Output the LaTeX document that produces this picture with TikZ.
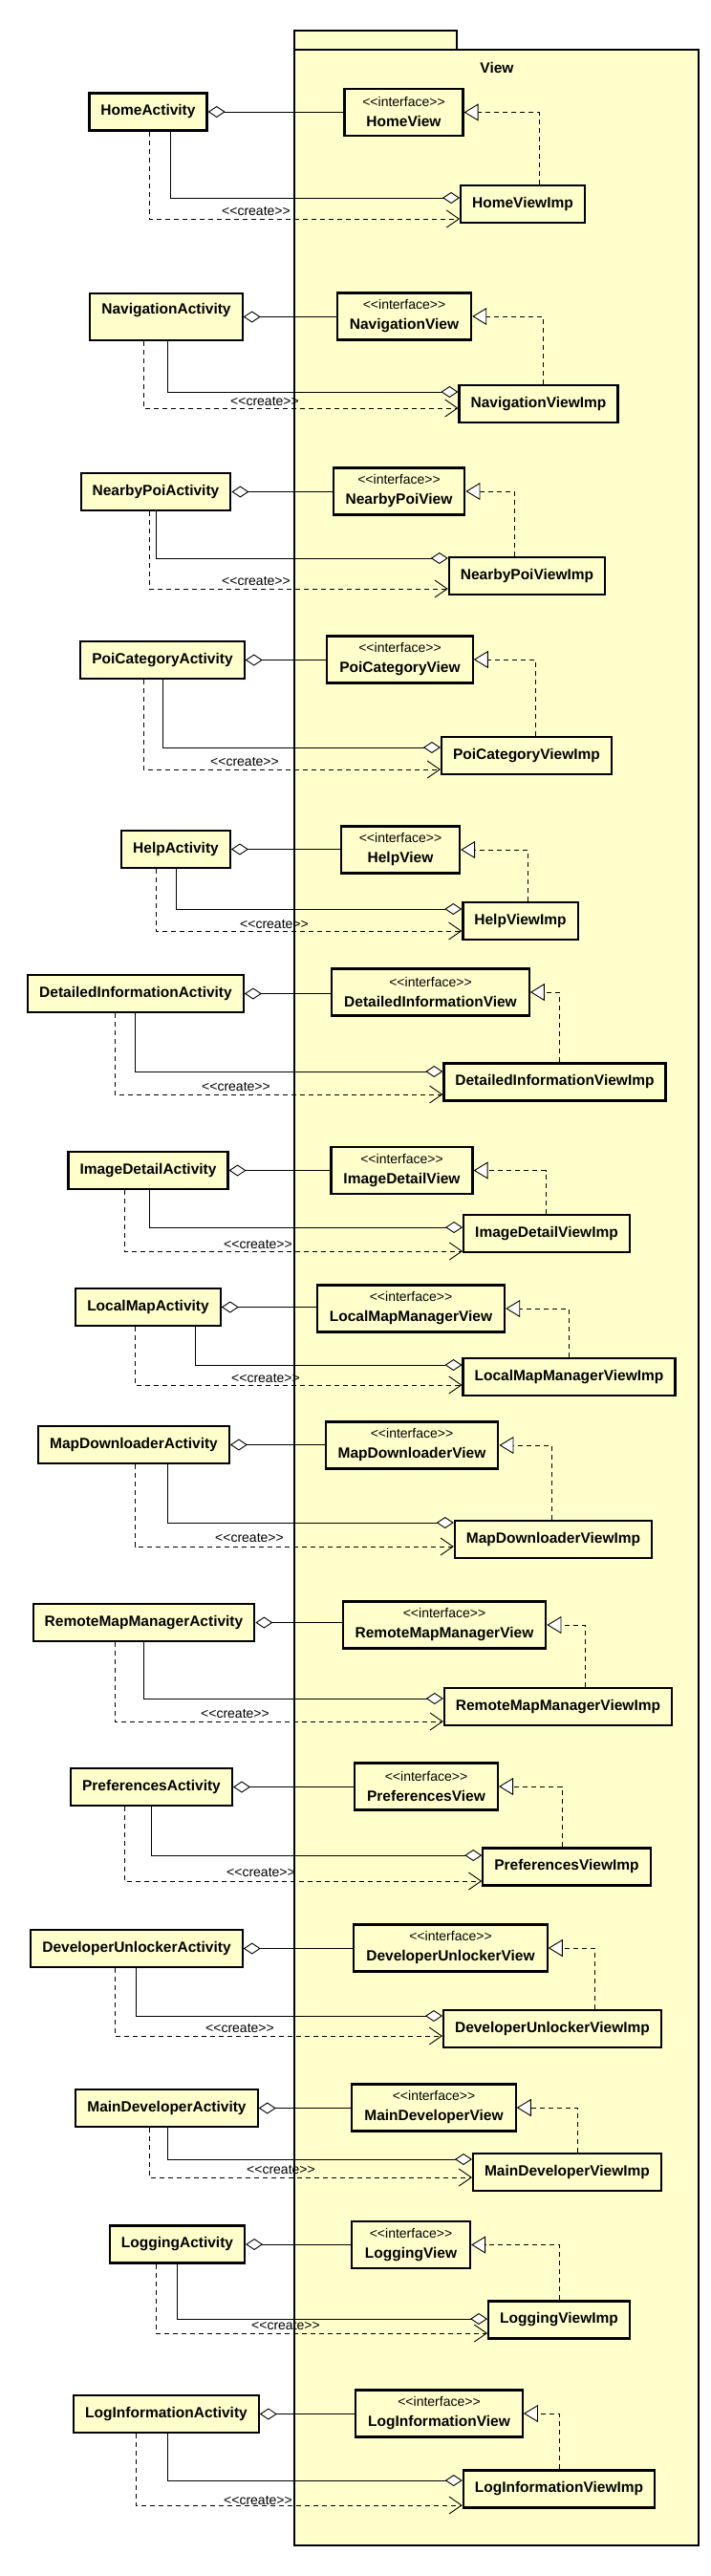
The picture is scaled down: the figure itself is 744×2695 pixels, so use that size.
\documentclass[tikz,border=0pt]{standalone}
\usepackage{fontspec}
\setmainfont{Liberation Sans}
\usetikzlibrary{arrows.meta}
\definecolor{umlyellow}{RGB}{255,255,204}
\newcommand{\stereo}[1]{{\mdseries\fontsize{14}{21}\selectfont<\kern0pt<#1>\kern0pt>}}

\begin{document}
\begin{tikzpicture}[x=1pt, y=-1pt,
        every node/.style={font=\bfseries\fontsize{15.5}{21}\selectfont},
        cls/.style={draw, line width=2.2pt, fill=umlyellow, inner xsep=12pt, inner ysep=0pt,
            text height=11pt, text depth=3.3pt, minimum height=39pt},
        tallcls/.style={cls, text depth=17pt, minimum height=49pt},
        iface/.style={draw, line width=2.2pt, fill=umlyellow, align=center, inner xsep=13pt,
            minimum width=124pt, minimum height=49pt},
        aggr/.style={draw, line width=0.9pt, {Diamond[fill=white, length=18pt, width=12pt]}-},
        own/.style={draw, line width=0.9pt, -{Diamond[fill=white, length=18pt, width=12pt]}},
        realize/.style={draw, line width=0.9pt, dash pattern=on 5pt off 4pt,
            -{Triangle[fill=white, length=15pt, width=18pt]}},
        create/.style={draw, line width=0.9pt, dash pattern=on 5pt off 4pt,
            -{Straight Barb[length=13pt, width=18pt]}},
        crlabel/.style={inner sep=0pt}]
    \useasboundingbox (0,0) rectangle (744,2695);

    % package View
    \draw[line width=2.2pt, fill=umlyellow] (308,32) rectangle (478,52);
    \draw[line width=2.2pt, fill=umlyellow] (308,52) rectangle (731,2663);
    \node (viewLbl) at (520,71) {View};

    % Home
    \node[cls] (homeAct) at (155,117) {HomeActivity};
    \node[iface] (homeIf) at (422.5,117.5) {\stereo{interface}\\HomeView};
    \node[cls] (homeImp) at (547,213.5) {HomeViewImp};
    \draw[aggr] (homeAct.east) -- (homeAct.east -| homeIf.west);
    \draw[own] (homeAct.south -| 178,0) |- (homeImp.west |- 0,207);
    \draw[create] (homeAct.south -| 156,0) |- (homeImp.west |- 0,229);
    \draw[realize] (homeImp.north -| 564,0) |- (homeIf.east);
    \node[crlabel] (homeCr) at (268,221) {\stereo{create}};

    % Navigation
    \node[tallcls] (navAct) at (174,331.5) {NavigationActivity};
    \node[iface] (navIf) at (423,331) {\stereo{interface}\\NavigationView};
    \node[cls] (navImp) at (563.5,422.5) {NavigationViewImp};
    \draw[aggr] (navAct.east) -- (navAct.east -| navIf.west);
    \draw[own] (navAct.south -| 175,0) |- (navImp.west |- 0,410);
    \draw[create] (navAct.south -| 150,0) |- (navImp.west |- 0,427);
    \draw[realize] (navImp.north -| 568,0) |- (navIf.east);
    \node[crlabel] (navCr) at (277,420) {\stereo{create}};

    % NearbyPoi
    \node[cls] (poiAct) at (163,514.5) {NearbyPoiActivity};
    \node[iface] (poiIf) at (417.5,514) {\stereo{interface}\\NearbyPoiView};
    \node[cls] (poiImp) at (551.5,602.5) {NearbyPoiViewImp};
    \draw[aggr] (poiAct.east) -- (poiAct.east -| poiIf.west);
    \draw[own] (poiAct.south -| 163,0) |- (poiImp.west |- 0,584);
    \draw[create] (poiAct.south -| 156,0) |- (poiImp.west |- 0,616);
    \draw[realize] (poiImp.north -| 538,0) |- (poiIf.east);
    \node[crlabel] (poiCr) at (268,608) {\stereo{create}};

    % PoiCategory
    \node[cls] (catAct) at (170,690.5) {PoiCategoryActivity};
    \node[iface] (catIf) at (418.5,690) {\stereo{interface}\\PoiCategoryView};
    \node[cls] (catImp) at (551,790.5) {PoiCategoryViewImp};
    \draw[aggr] (catAct.east) -- (catAct.east -| catIf.west);
    \draw[own] (catAct.south -| 170,0) |- (catImp.west |- 0,782);
    \draw[create] (catAct.south -| 150,0) |- (catImp.west |- 0,805);
    \draw[realize] (catImp.north -| 560,0) |- (catIf.east);
    \node[crlabel] (catCr) at (256,797) {\stereo{create}};

    % Help
    \node[cls] (helpAct) at (184,888.5) {HelpActivity};
    \node[iface] (helpIf) at (419,889) {\stereo{interface}\\HelpView};
    \node[cls] (helpImp) at (544.5,963.5) {HelpViewImp};
    \draw[aggr] (helpAct.east) -- (helpAct.east -| helpIf.west);
    \draw[own] (helpAct.south -| 184,0) |- (helpImp.west |- 0,951);
    \draw[create] (helpAct.south -| 163,0) |- (helpImp.west |- 0,974);
    \draw[realize] (helpImp.north -| 552,0) |- (helpIf.east);
    \node[crlabel] (helpCr) at (287,967) {\stereo{create}};

    % DetailedInformation
    \node[cls] (detAct) at (142,1039.5) {DetailedInformationActivity};
    \node[iface] (detIf) at (450.5,1038) {\stereo{interface}\\DetailedInformationView};
    \node[cls] (detImp) at (580.5,1132) {DetailedInformationViewImp};
    \draw[aggr] (detAct.east) -- (detAct.east -| detIf.west);
    \draw[own] (detAct.south -| 141,0) |- (detImp.west |- 0,1121);
    \draw[create] (detAct.south -| 120,0) |- (detImp.west |- 0,1145);
    \draw[realize] (detImp.north -| 585,0) |- (detIf.east);
    \node[crlabel] (detCr) at (247,1137) {\stereo{create}};

    % ImageDetail
    \node[cls] (imgAct) at (155,1224.5) {ImageDetailActivity};
    \node[iface] (imgIf) at (420.5,1224.5) {\stereo{interface}\\ImageDetailView};
    \node[cls] (imgImp) at (572,1290.5) {ImageDetailViewImp};
    \draw[aggr] (imgAct.east) -- (imgAct.east -| imgIf.west);
    \draw[own] (imgAct.south -| 156,0) |- (imgImp.west |- 0,1284);
    \draw[create] (imgAct.south -| 130,0) |- (imgImp.west |- 0,1309);
    \draw[realize] (imgImp.north -| 571,0) |- (imgIf.east);
    \node[crlabel] (imgCr) at (270,1302) {\stereo{create}};

    % LocalMap
    \node[cls] (locAct) at (155,1367.5) {LocalMapActivity};
    \node[iface] (locIf) at (430,1369) {\stereo{interface}\\LocalMapManagerView};
    \node[cls] (locImp) at (595.5,1440.5) {LocalMapManagerViewImp};
    \draw[aggr] (locAct.east) -- (locAct.east -| locIf.west);
    \draw[own] (locAct.south -| 204,0) |- (locImp.west |- 0,1428);
    \draw[create] (locAct.south -| 141,0) |- (locImp.west |- 0,1449);
    \draw[realize] (locImp.north -| 595,0) |- (locIf.east);
    \node[crlabel] (locCr) at (278,1442) {\stereo{create}};

    % MapDownloader
    \node[cls] (dlAct) at (140,1511.5) {MapDownloaderActivity};
    \node[iface] (dlIf) at (431,1512) {\stereo{interface}\\MapDownloaderView};
    \node[cls] (dlImp) at (579,1610.5) {MapDownloaderViewImp};
    \draw[aggr] (dlAct.east) -- (dlAct.east -| dlIf.west);
    \draw[own] (dlAct.south -| 175,0) |- (dlImp.west |- 0,1593);
    \draw[create] (dlAct.south -| 141,0) |- (dlImp.west |- 0,1618);
    \draw[realize] (dlImp.north -| 577,0) |- (dlIf.east);
    \node[crlabel] (dlCr) at (261,1609) {\stereo{create}};

    % RemoteMapManager
    \node[cls] (remAct) at (150.5,1697.5) {RemoteMapManagerActivity};
    \node[iface] (remIf) at (465,1700) {\stereo{interface}\\RemoteMapManagerView};
    \node[cls] (remImp) at (584,1785.5) {RemoteMapManagerViewImp};
    \draw[aggr] (remAct.east) -- (remAct.east -| remIf.west);
    \draw[own] (remAct.south -| 150,0) |- (remImp.west |- 0,1777);
    \draw[create] (remAct.south -| 120,0) |- (remImp.west |- 0,1801);
    \draw[realize] (remImp.north -| 612,0) |- (remIf.east);
    \node[crlabel] (remCr) at (246,1793) {\stereo{create}};

    % Preferences
    \node[cls] (prefAct) at (158.5,1869.5) {PreferencesActivity};
    \node[iface] (prefIf) at (446,1869) {\stereo{interface}\\PreferencesView};
    \node[cls] (prefImp) at (593,1953) {PreferencesViewImp};
    \draw[aggr] (prefAct.east) -- (prefAct.east -| prefIf.west);
    \draw[own] (prefAct.south -| 158,0) |- (prefImp.west |- 0,1941);
    \draw[create] (prefAct.south -| 130,0) |- (prefImp.west |- 0,1968);
    \draw[realize] (prefImp.north -| 588,0) |- (prefIf.east);
    \node[crlabel] (prefCr) at (273,1959) {\stereo{create}};

    % DeveloperUnlocker
    \node[cls] (devAct) at (143,2038.5) {DeveloperUnlockerActivity};
    \node[iface] (devIf) at (471.5,2038) {\stereo{interface}\\DeveloperUnlockerView};
    \node[cls] (devImp) at (578,2122.5) {DeveloperUnlockerViewImp};
    \draw[aggr] (devAct.east) -- (devAct.east -| devIf.west);
    \draw[own] (devAct.south -| 142,0) |- (devImp.west |- 0,2109);
    \draw[create] (devAct.south -| 120,0) |- (devImp.west |- 0,2130);
    \draw[realize] (devImp.north -| 622,0) |- (devIf.east);
    \node[crlabel] (devCr) at (251,2122) {\stereo{create}};

    % MainDeveloper
    \node[cls] (mainAct) at (174.5,2205.5) {MainDeveloperActivity};
    \node[iface] (mainIf) at (454,2205) {\stereo{interface}\\MainDeveloperView};
    \node[cls] (mainImp) at (593.5,2272.5) {MainDeveloperViewImp};
    \draw[aggr] (mainAct.east) -- (mainAct.east -| mainIf.west);
    \draw[own] (mainAct.south -| 175,0) |- (mainImp.west |- 0,2259);
    \draw[create] (mainAct.south -| 156,0) |- (mainImp.west |- 0,2278);
    \draw[realize] (mainImp.north -| 604,0) |- (mainIf.east);
    \node[crlabel] (mainCr) at (294,2270) {\stereo{create}};

    % Logging
    \node[cls] (logAct) at (185.5,2348) {LoggingActivity};
    \node[iface] (logIf) at (430,2348.5) {\stereo{interface}\\LoggingView};
    \node[cls] (logImp) at (585,2427) {LoggingViewImp};
    \draw[aggr] (logAct.east) -- (logAct.east -| logIf.west);
    \draw[own] (logAct.south -| 185,0) |- (logImp.west |- 0,2426);
    \draw[create] (logAct.south -| 163,0) |- (logImp.west |- 0,2441);
    \draw[realize] (logImp.north -| 585,0) |- (logIf.east);
    \node[crlabel] (logCr) at (299,2433) {\stereo{create}};

    % LogInformation
    \node[cls] (infoAct) at (174,2525.5) {LogInformationActivity};
    \node[iface] (infoIf) at (459.5,2525) {\stereo{interface}\\LogInformationView};
    \node[cls] (infoImp) at (585,2604) {LogInformationViewImp};
    \draw[aggr] (infoAct.east) -- (infoAct.east -| infoIf.west);
    \draw[own] (infoAct.south -| 175,0) |- (infoImp.west |- 0,2595);
    \draw[create] (infoAct.south -| 142,0) |- (infoImp.west |- 0,2621);
    \draw[realize] (infoImp.north -| 585,0) |- (infoIf.east);
    \node[crlabel] (infoCr) at (270,2616) {\stereo{create}};
\end{tikzpicture}
\end{document}
